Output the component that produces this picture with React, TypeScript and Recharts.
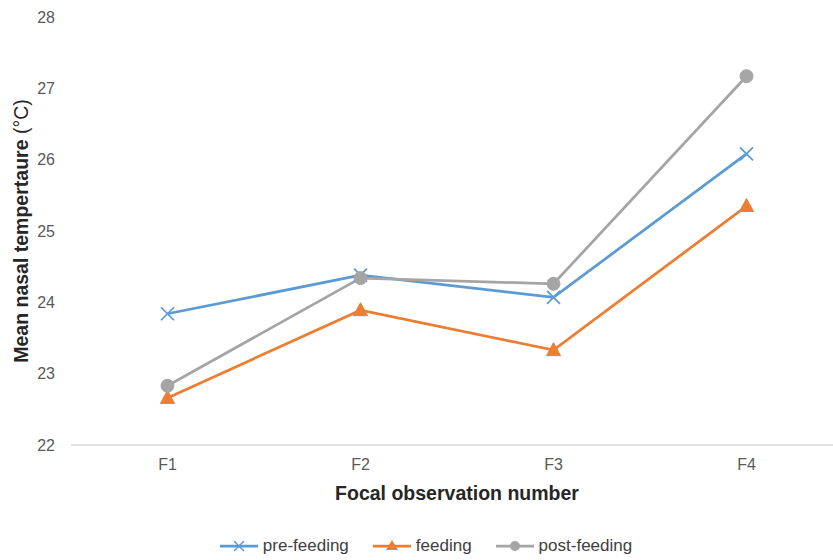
import React from "react";
import { LineChart, Line, XAxis, YAxis, CartesianGrid } from "recharts";

const categories = ["F1", "F2", "F3", "F4"];
const preFeeding = [23.84, 24.38, 24.07, 26.08];
const feeding = [22.66, 23.89, 23.33, 25.35];
const postFeeding = [22.83, 24.34, 24.26, 27.17];
const yTicks = [22, 23, 24, 25, 26, 27, 28];
const seriesNames = ["pre-feeding", "feeding", "post-feeding"];

const BLUE = "#5B9BD5";
const ORANGE = "#ED7D31";
const GRAY = "#A5A5A5";
const FONT = "'Liberation Sans', Arial, sans-serif";

const data = categories.map((c, i) => ({
  name: c,
  pre: preFeeding[i],
  feed: feeding[i],
  post: postFeeding[i],
}));

const CrossDot = (props: any) => {
  const { cx, cy, key } = props;
  if (cx == null || cy == null) return null;
  const s = 6.5;
  return (
    <g key={key}>
      <line x1={cx - s} y1={cy - s} x2={cx + s} y2={cy + s} stroke={BLUE} strokeWidth={1.75} />
      <line x1={cx - s} y1={cy + s} x2={cx + s} y2={cy - s} stroke={BLUE} strokeWidth={1.75} />
    </g>
  );
};

const TriDot = (props: any) => {
  const { cx, cy, key } = props;
  if (cx == null || cy == null) return null;
  return (
    <polygon
      key={key}
      points={`${cx},${cy - 7.5} ${cx + 7},${cy + 5.5} ${cx - 7},${cy + 5.5}`}
      fill={ORANGE}
      stroke={ORANGE}
      strokeWidth={1}
    />
  );
};

const CircleDot = (props: any) => {
  const { cx, cy, key } = props;
  if (cx == null || cy == null) return null;
  return <circle key={key} cx={cx} cy={cy} r={6.5} fill={GRAY} stroke={GRAY} strokeWidth={1} />;
};

const LegendIcon = ({ color, kind }: { color: string; kind: string }) => (
  <svg width={38} height={16} style={{ display: "block" }}>
    <line x1={0} y1={8} x2={38} y2={8} stroke={color} strokeWidth={2.75} />
    {kind === "cross" && (
      <g>
        <line x1={14} y1={3} x2={24} y2={13} stroke={color} strokeWidth={1.5} />
        <line x1={14} y1={13} x2={24} y2={3} stroke={color} strokeWidth={1.5} />
      </g>
    )}
    {kind === "tri" && <polygon points="19,2 25,12 13,12" fill={color} />}
    {kind === "circle" && <circle cx={19} cy={8} r={5} fill={color} />}
  </svg>
);

const XTitle = (props: any) => {
  const { viewBox } = props;
  const { x, y, width } = viewBox;
  return (
    <text
      x={x + width / 2}
      y={y + 55}
      textAnchor="middle"
      fontFamily={FONT}
      fontSize={19.5}
      fontWeight="bold"
      fill="#262626"
    >
      Focal observation number
    </text>
  );
};

const YTitle = (props: any) => {
  const { viewBox } = props;
  const { y, height } = viewBox;
  const cx = 28;
  const cy = y + height / 2;
  return (
    <text
      x={cx}
      y={cy}
      textAnchor="middle"
      transform={`rotate(-90, ${cx}, ${cy})`}
      fontFamily={FONT}
      fontSize={19.5}
      fontWeight="bold"
      fill="#262626"
    >
      Mean nasal tempertaure <tspan fontWeight="normal">(°C)</tspan>
    </text>
  );
};

export default function App() {
  const colors = [BLUE, ORANGE, GRAY];
  const kinds = ["cross", "tri", "circle"];
  return (
    <div
      style={{
        position: "absolute",
        left: 0,
        top: 0,
        width: 833,
        height: 560,
        overflow: "hidden",
        background: "#fff",
        fontFamily: FONT,
      }}
    >
      <LineChart
        width={843}
        height={560}
        data={data}
        margin={{ top: 17, right: 0, left: 0, bottom: 85 }}
      >
        <CartesianGrid horizontal={false} vertical={false} />
        <XAxis
          dataKey="name"
          height={30}
          padding={{ left: 96.5, right: 96.5 }}
          axisLine={{ stroke: "#D9D9D9", strokeWidth: 1.5 }}
          tickLine={false}
          tickSize={6}
          tickMargin={8}
          tick={{ fill: "#595959", fontSize: 16, fontFamily: FONT }}
          label={<XTitle />}
        />
        <YAxis
          width={71}
          domain={[22, 28]}
          ticks={yTicks}
          axisLine={false}
          tickLine={false}
          tickSize={6}
          tickMargin={10}
          tick={{ fill: "#595959", fontSize: 16, fontFamily: FONT }}
          label={<YTitle />}
        />
        <Line
          dataKey="pre"
          name={seriesNames[0]}
          stroke={BLUE}
          strokeWidth={2.75}
          dot={CrossDot}
          isAnimationActive={false}
        />
        <Line
          dataKey="feed"
          name={seriesNames[1]}
          stroke={ORANGE}
          strokeWidth={2.75}
          dot={TriDot}
          isAnimationActive={false}
        />
        <Line
          dataKey="post"
          name={seriesNames[2]}
          stroke={GRAY}
          strokeWidth={2.75}
          dot={CircleDot}
          isAnimationActive={false}
        />
      </LineChart>
      <div
        style={{
          position: "absolute",
          top: 536,
          left: 0,
          width: 852,
          display: "flex",
          justifyContent: "center",
          alignItems: "center",
          fontSize: 17,
          color: "#404040",
          fontFamily: FONT,
        }}
      >
        {seriesNames.map((n, i) => (
          <div
            key={n}
            style={{ display: "flex", alignItems: "center", marginRight: i < 2 ? 24 : 0 }}
          >
            <LegendIcon color={colors[i]} kind={kinds[i]} />
            <span style={{ marginLeft: 5 }}>{n}</span>
          </div>
        ))}
      </div>
    </div>
  );
}
